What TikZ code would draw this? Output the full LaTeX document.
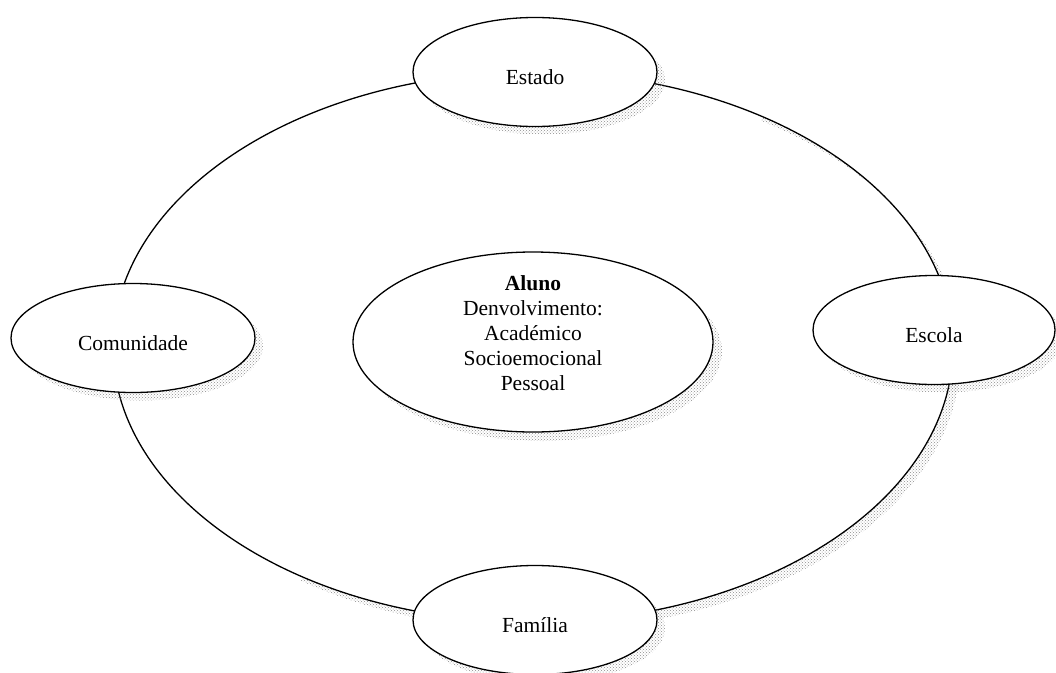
\documentclass[tikz,border=0pt]{standalone}
\usepackage{fontspec}
\setmainfont{Liberation Serif}
\usetikzlibrary{shapes.geometric,patterns,calc}
\tikzset{
  nodebox/.style={ellipse, draw=black, line width=1.3pt, fill=white, inner sep=0pt,
    font=\fontsize{21.5}{25}\selectfont, align=center},
  smallbox/.style={nodebox, minimum width=244pt, minimum height=109pt, text height=25pt, text depth=0pt},
  shade/.style={pattern=crosshatch dots, pattern color=black!45},
  ring/.style={draw=black, line width=1.3pt}
}
\begin{document}
\begin{tikzpicture}[x=1pt,y=-1pt]
\useasboundingbox (0,0) rectangle (1056,672);
\coordinate (ringc) at (533,347);
% shadow of the ring (lower-right crescent)
\begin{scope}
  \clip ($(ringc)+(1500,-1500)$) -- ($(ringc)+(-1500,1500)$) -- ($(ringc)+(1500,1500)$) -- cycle;
  \fill[shade, even odd rule] ([shift={(8,8)}]ringc) ellipse [x radius=420, y radius=275]
     (ringc) ellipse [x radius=420, y radius=275];
\end{scope}
% ring
\draw[ring] (ringc) ellipse [x radius=420, y radius=275];
% node shadows
\fill[shade] (543,80) ellipse [x radius=122, y radius=54.5];
\fill[shade] (141,346) ellipse [x radius=122, y radius=54.5];
\fill[shade] (942,338) ellipse [x radius=121, y radius=54.5];
\fill[shade] (543,628) ellipse [x radius=122, y radius=54.5];
\fill[shade] (542,351) ellipse [x radius=180, y radius=90];
% nodes
\node[smallbox] (estado) at (535,72) {Estado};
\node[smallbox] (comunidade) at (133,338) {Comunidade};
\node[smallbox, minimum width=242pt] (escola) at (934,330) {Escola};
\node[smallbox] (familia) at (535,620) {Família};
\node[nodebox, minimum width=360pt, minimum height=180pt, text depth=18pt, inner ysep=-10pt] (aluno) at (533,342)
  {\textbf{Aluno}\\Denvolvimento:\\Académico\\Socioemocional\\Pessoal};
\end{tikzpicture}
\end{document}
